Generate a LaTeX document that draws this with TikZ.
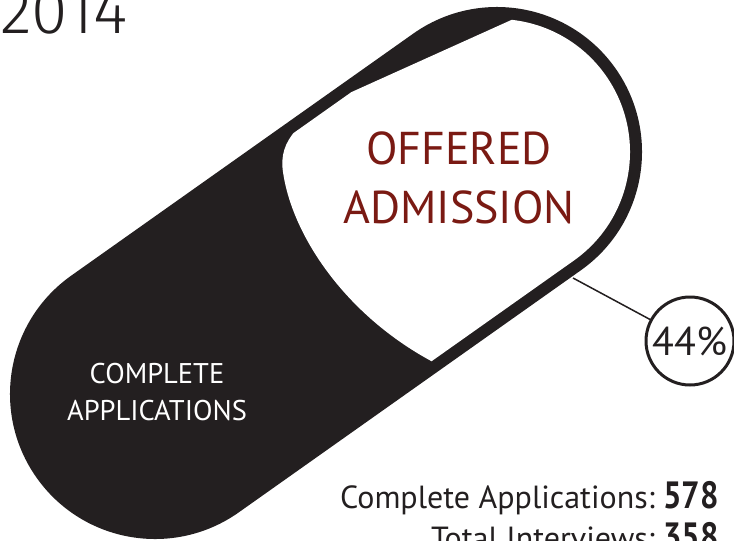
\documentclass[tikz,border=0pt]{standalone}
\usepackage{fontspec}
\usepackage{graphicx}
\setmainfont{PT Sans}
\newfontfamily\thinfont{Fira Sans Light}
\definecolor{pillblack}{HTML}{231F20}
\definecolor{offerred}{HTML}{7A1A13}
\tikzset{
  statlabel/.style={anchor=base east,inner sep=0,text=pillblack,font=\fontsize{32}{32}\selectfont},
  statnum/.style={anchor=base west,inner sep=0,text=pillblack,font=\bfseries\fontsize{38}{38}\selectfont}
}
\begin{document}
\begin{tikzpicture}[x=1pt,y=-1pt]
\useasboundingbox (0,0) rectangle (734,541);
\clip (0,0) rectangle (734,541);
\node (year) at (0,33)[anchor=base west,inner sep=0,text=pillblack,font=\thinfont\fontsize{66}{66}\selectfont]{2014};

\coordinate (lcap) at (155,394);
\coordinate (rcap) at (497,152);
\draw[pillblack,line width=290pt,line cap=round] (lcap)--(rcap);
\begin{scope}
\clip (345,95) .. controls (300,120) and (278,140) .. (283,172) .. controls (292,235) and (345,315) .. (433,362) -- (620,420) -- (760,200) -- (600,-20) -- cycle;
\draw[white,line width=266pt,line cap=round] (lcap)--(rcap);
\end{scope}

\foreach \y/\t in {164/OFFERED,223/ADMISSION}
{
    \node (offer\y) at (459,\y)[anchor=base,inner sep=0,text=offerred,font=\fontsize{46}{46}\selectfont]{\t};
}
\foreach \y/\t in {383/COMPLETE,420/APPLICATIONS}
{
    \node (apps\y) at (157,\y)[anchor=base,inner sep=0,text=white,font=\fontsize{28.5}{28.5}\selectfont]{\t};
}

\node (pct) at (690,341)[circle,draw=pillblack,line width=3pt,minimum size=88pt,inner sep=0,text=pillblack,font=\fontsize{40}{40}\selectfont]{44\%};
\coordinate (rim) at (573,278);
\draw[pillblack,line width=1.5pt] (rim)--(pct);

\foreach \y/\lab/\num in {508/Complete Applications:/578,549/Total Interviews:/358}
{
    \node (lab\num) at (655,\y)[statlabel]{\lab};
    \node (num\num) at (663,\y)[statnum]{\scalebox{0.86}[1]{\num}};
}
\end{tikzpicture}
\end{document}
